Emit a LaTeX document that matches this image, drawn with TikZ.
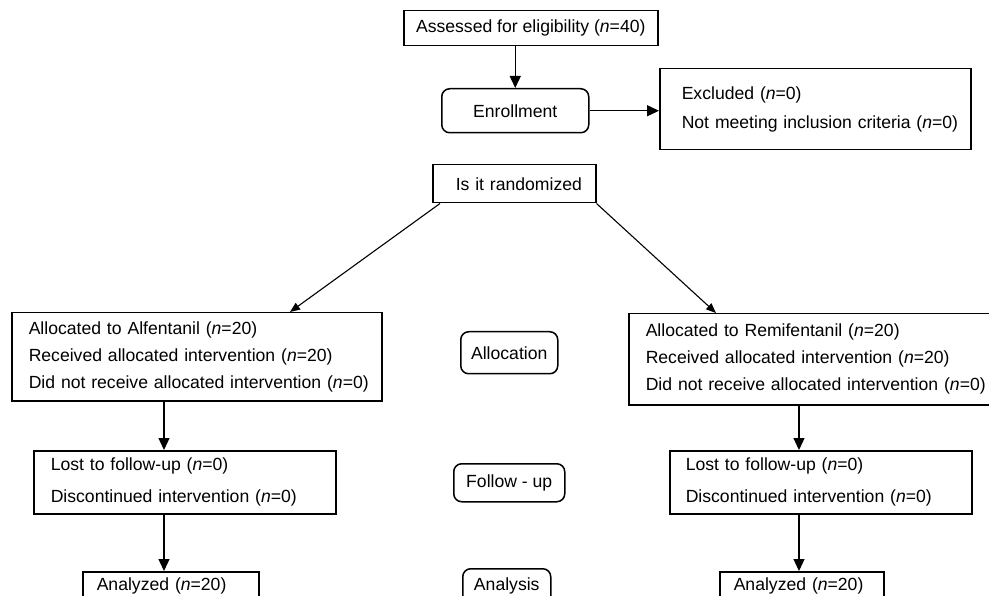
\documentclass[tikz,border=0pt]{standalone}
\usepackage{fontspec}
\setmainfont{Liberation Sans}
\usetikzlibrary{arrows.meta, positioning}

\begin{document}
\begin{tikzpicture}[
    x=1pt, y=-1pt,
    box/.style={draw, line width=1.5pt, inner sep=0pt, anchor=north west, font=\fontsize{17.6}{27}\selectfont},
    lbox/.style={box, align=left},
    cbox/.style={box, align=center},
    rbox/.style={cbox, rounded corners=8pt},
    arr/.style={-{Triangle[length=12pt, width=11pt]}, line width=1.3pt},
    darr/.style={-{Triangle[length=10pt, width=8pt]}, line width=1.1pt},
]
\useasboundingbox (0,0) rectangle (989,596);
\clip (0,0) rectangle (989,596);

% Enrollment
\node[cbox, minimum width=254pt, minimum height=35pt] (assess) at (403,10) {Assessed for eligibility (\textit{n}=40)};
\node[rbox, minimum width=147pt, minimum height=44pt] (enroll) at (441,88) {Enrollment};
\node[lbox, minimum height=81pt, inner xsep=22pt, text width=267pt] (excl) at (659,68)
    {Excluded (\textit{n}=0)\\[2pt]\mbox{Not meeting inclusion criteria (\textit{n}=0)}};
\node[lbox, minimum height=38pt, inner xsep=23pt, text width=117pt] (rand) at (432,164) {\mbox{Is it randomized}};

% Allocation
\node[lbox, minimum height=88pt, inner xsep=17pt, text width=336pt] (alfalloc) at (11,312)
    {Allocated to Alfentanil (\textit{n}=20)\\Received allocated intervention (\textit{n}=20)\\\mbox{Did not receive allocated intervention (\textit{n}=0)}};
\node[rbox, minimum width=97pt, minimum height=42pt] (allocation) at (460,331) {Allocation};
\node[lbox, minimum height=91pt, inner xsep=17pt, text width=343pt] (remalloc) at (628,313)
    {Allocated to Remifentanil (\textit{n}=20)\\Received allocated intervention (\textit{n}=20)\\\mbox{Did not receive allocated intervention (\textit{n}=0)}};

% Follow-up
\node[lbox, minimum height=63pt, inner xsep=17pt, text width=268pt] (alflost) at (33,450)
    {Lost to follow-up (\textit{n}=0)\\[5pt]Discontinued intervention (\textit{n}=0)};
\node[rbox, minimum width=111pt, minimum height=38pt] (followup) at (453,463) {Follow - up};
\node[lbox, minimum height=63pt, inner xsep=16pt, text width=270pt] (remlost) at (669,450)
    {Lost to follow-up (\textit{n}=0)\\[5pt]Discontinued intervention (\textit{n}=0)};

% Analysis (cut off at the bottom)
\node[lbox, inner xsep=14pt, inner ysep=5pt, text width=148pt, text height=14pt, text depth=30pt] (alfana) at (82,571) {Analyzed (\textit{n}=20)};
\node[rbox, inner xsep=0pt, inner ysep=5pt, minimum width=88pt, text height=17pt, text depth=30pt] (analysis) at (462,568) {Analysis};
\node[lbox, inner xsep=14pt, inner ysep=5pt, text width=136pt, text height=14pt, text depth=30pt] (remana) at (719,571) {Analyzed (\textit{n}=20)};

% columns of the vertical arrows
\coordinate (alfx) at (164,0);
\coordinate (remx) at (799,0);
\coordinate (alftip) at (290,0);
\coordinate (remtip) at (716,0);

\draw[arr] (assess.south -| enroll.north) -- (enroll.north);
\draw[arr] (enroll.east) -- (enroll.east -| excl.west);
\draw[darr] ([xshift=8pt]rand.south west) -- (alfalloc.north -| alftip);
\draw[darr] (rand.south east) -- (remalloc.north -| remtip);
\draw[arr] (alfalloc.south -| alfx) -- (alflost.north -| alfx);
\draw[arr] (remalloc.south -| remx) -- (remlost.north -| remx);
\draw[arr] (alflost.south -| alfx) -- (alfana.north -| alfx);
\draw[arr] (remlost.south -| remx) -- (remana.north -| remx);

\end{tikzpicture}
\end{document}
